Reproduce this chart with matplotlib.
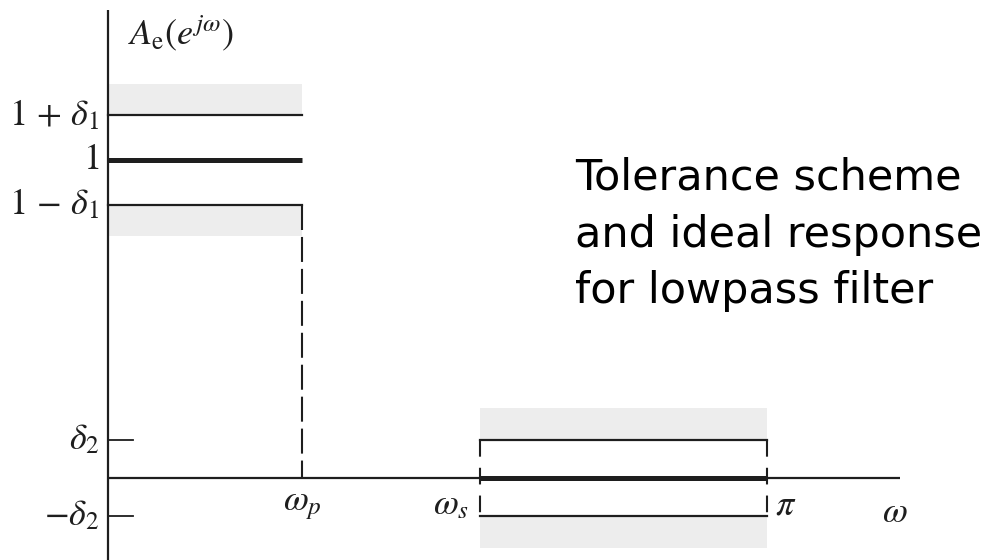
import numpy as np
import matplotlib.pyplot as plt

plt.rcParams['mathtext.fontset'] = 'stix'
plt.rcParams['font.family'] = 'STIXGeneral'
plt.rcParams['lines.scale_dashes'] = False

# band edges and tolerances of the lowpass spec
omega_p = 0.925
omega_s = 1.773
omega_max = np.pi
delta1 = 0.14
delta2 = 0.12
band = 0.10          # thickness of the shaded forbidden strips

y_ticks = [1 + delta1, 1, 1 - delta1, delta2, -delta2]
y_labels = [r'$1\,+\,\delta_1$', r'$1$', r'$1\,-\,\delta_1$', r'$\delta_2$', r'$-\delta_2$']
x_ticks = [omega_p, omega_s, omega_max]
x_labels = [r'$\omega_p$', r'$\omega_s$', r'$\pi$']
caption = ['Tolerance scheme', 'and ideal response', 'for lowpass filter']

ink = '#1e1e1e'
shade = '#ededed'
fs = 26

fig = plt.figure(figsize=(9.88, 5.6), dpi=100)
ax = fig.add_axes([0, 0, 1, 1])
ax.set_xlim(-0.5149, 4.1952)
ax.set_ylim(-0.2579, 1.5031)
ax.axis('off')

# forbidden regions
ax.fill_between([0, omega_p], 1 + delta1, 1 + delta1 + band, color=shade, lw=0)
ax.fill_between([0, omega_p], 1 - delta1 - band, 1 - delta1, color=shade, lw=0)
ax.fill_between([omega_s, omega_max], delta2, delta2 + band, color=shade, lw=0)
ax.fill_between([omega_s, omega_max], -delta2 - band, -delta2, color=shade, lw=0)

# axes
ax.plot([0, 0], [-0.26, 1.472], color=ink, lw=1.6, solid_capstyle='butt')
ax.plot([0, 3.776], [0, 0], color=ink, lw=1.6, solid_capstyle='butt')
ax.plot([0, 0.119], [delta2, delta2], color=ink, lw=1.3)
ax.plot([0, 0.119], [-delta2, -delta2], color=ink, lw=1.3)

# passband tolerance
ax.plot([0, omega_p], [1 + delta1, 1 + delta1], color=ink, lw=1.6)
ax.plot([0, omega_p], [1 - delta1, 1 - delta1], color=ink, lw=1.6)
ax.plot([omega_p, omega_p], [1 - delta1, 0], color=ink, lw=1.5,
        dashes=(18, 5))

# stopband tolerance
ax.plot([omega_s, omega_max], [delta2, delta2], color=ink, lw=1.6)
ax.plot([omega_s, omega_max], [-delta2, -delta2], color=ink, lw=1.6)
for w in [omega_s, omega_max]:
    ax.plot([w, w], [delta2, -delta2], color=ink, lw=1.5, dashes=(12, 8))

# ideal response
ax.plot([0, omega_p], [1, 1], color=ink, lw=3.6, solid_capstyle='butt')
ax.plot([omega_s, omega_max], [0, 0], color=ink, lw=3.6, solid_capstyle='butt')

# labels
for y, lab in zip(y_ticks, y_labels):
    ax.text(-0.04, y, lab, ha='right', va='center', fontsize=fs, color=ink)
ax.text(x_ticks[0], -0.035, x_labels[0], ha='center', va='top', fontsize=fs, color=ink)
ax.text(x_ticks[1] - 0.05, -0.035, x_labels[1], ha='right', va='top', fontsize=fs, color=ink)
ax.text(x_ticks[2] + 0.04, -0.035, x_labels[2], ha='left', va='top', fontsize=fs, color=ink)
ax.text(3.69, -0.06, r'$\omega$', ha='left', va='top', fontsize=fs, color=ink)
ax.text(0.095, 1.40, r'$A_{\mathrm{e}}(e^{j\omega})$', ha='left', va='center',
        fontsize=fs, color=ink)

for i, line in enumerate(caption):
    fig.text(575 / 988, 1 - [190, 247, 303][i] / 560, line, ha='left',
             va='baseline', fontsize=31, family='DejaVu Sans', color='black')

fig.savefig('out.png', dpi=100)
